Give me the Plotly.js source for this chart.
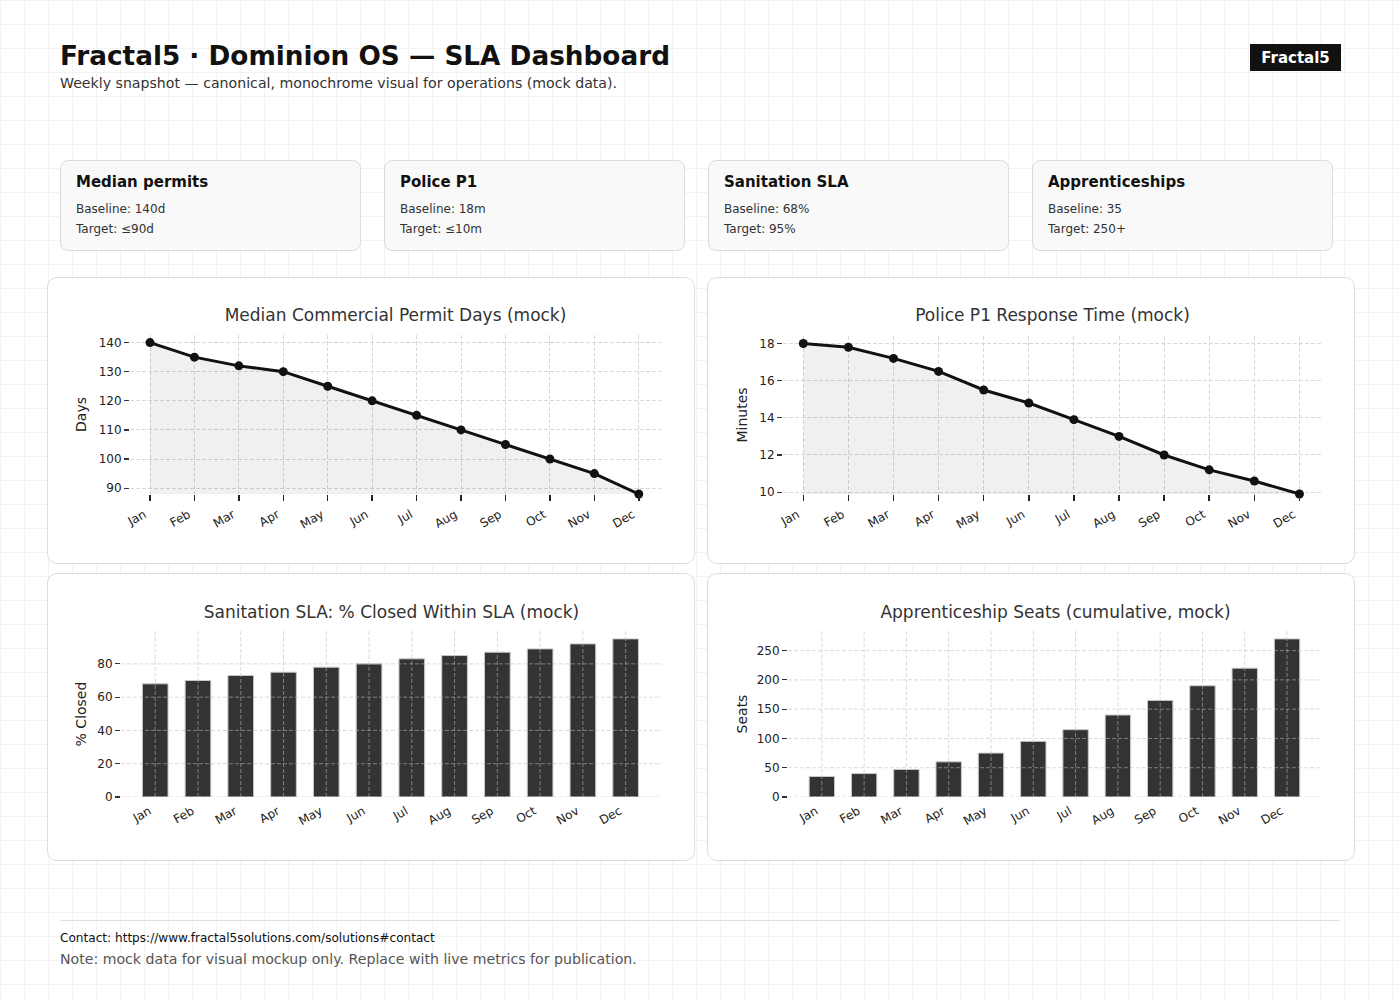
<!DOCTYPE html>
<html><head><meta charset="utf-8">
<script src="https://cdn.plot.ly/plotly-3.0.1.min.js"></script>
<style>
html,body{margin:0;padding:0;}
body{width:1400px;height:1000px;position:relative;overflow:hidden;font-family:"DejaVu Sans",sans-serif;
background-color:#fff;
background-image:linear-gradient(#f3f3f3 1px,transparent 1px),linear-gradient(90deg,#f3f3f3 1px,transparent 1px);
background-size:24px 24px;}
.abs{position:absolute;white-space:nowrap;line-height:1;}
#title{left:60px;top:43px;font-size:26.3px;font-weight:bold;color:#111;}
#subtitle{left:60px;top:76px;font-size:14.15px;color:#333;}
#badge{left:1250px;top:44px;width:91px;height:27px;background:#111;color:#fff;font-weight:bold;font-size:15px;text-align:center;line-height:29px;}
.kpi{position:absolute;top:160px;width:301px;height:91px;background:#f9f9f9;border:1px solid #dcdcdc;border-radius:8px;box-sizing:border-box;}
.kpi .h{position:absolute;left:15px;top:14px;font-size:15px;font-weight:bold;color:#111;line-height:1;}
.kpi .l1{position:absolute;left:15px;top:42px;font-size:12px;color:#333;line-height:1;}
.kpi .l2{position:absolute;left:15px;top:62px;font-size:12px;color:#333;line-height:1;}
.card{position:absolute;background:#fff;border:1px solid #dcdcdc;border-radius:10px;box-sizing:border-box;overflow:hidden;}
.plot{position:absolute;left:0;top:0;}
#rule{left:60px;top:920px;width:1280px;height:1px;background:#e0e0e0;}
#contact{left:60px;top:932px;font-size:12.1px;color:#111;}
#note{left:60px;top:952px;font-size:14.13px;color:#555;}
</style>
</head><body>
<div class="abs" id="title">Fractal5 · Dominion OS — SLA Dashboard</div>
<div class="abs" id="subtitle">Weekly snapshot — canonical, monochrome visual for operations (mock data).</div>
<div class="abs" id="badge">Fractal5</div>

<div class="kpi" style="left:60px"><div class="h">Median permits</div><div class="l1">Baseline: 140d</div><div class="l2">Target: ≤90d</div></div>
<div class="kpi" style="left:384px"><div class="h">Police P1</div><div class="l1">Baseline: 18m</div><div class="l2">Target: ≤10m</div></div>
<div class="kpi" style="left:708px"><div class="h">Sanitation SLA</div><div class="l1">Baseline: 68%</div><div class="l2">Target: 95%</div></div>
<div class="kpi" style="left:1032px"><div class="h">Apprenticeships</div><div class="l1">Baseline: 35</div><div class="l2">Target: 250+</div></div>

<div class="card" style="left:47px;top:277px;width:648px;height:287px"><div class="plot" id="c1"></div></div>
<div class="card" style="left:707px;top:277px;width:648px;height:287px"><div class="plot" id="c2"></div></div>
<div class="card" style="left:47px;top:573px;width:648px;height:288px"><div class="plot" id="c3"></div></div>
<div class="card" style="left:707px;top:573px;width:648px;height:288px"><div class="plot" id="c4"></div></div>

<div class="abs" id="rule"></div>
<div class="abs" id="contact">Contact: https://www.fractal5solutions.com/solutions#contact</div>
<div class="abs" id="note">Note: mock data for visual mockup only. Replace with live metrics for publication.</div>

<script>
// ---- data ----
const months = ["Jan","Feb","Mar","Apr","May","Jun","Jul","Aug","Sep","Oct","Nov","Dec"];
const permitDays = [140,135,132,130,125,120,115,110,105,100,95,88];
const policeMinutes = [18.0,17.8,17.2,16.5,15.5,14.8,13.9,13.0,12.0,11.2,10.6,9.9];
const sanitationPct = [68,70,73,75,78,80,83,85,87,89,92,95];
const apprenticeSeats = [35,40,47,60,75,95,115,140,165,190,220,270];

const FONT = "DejaVu Sans";
const GRID = "#d9d9d9";
const DASH = "4px,2px";

function baseAxes(ytitle, dtick, yrange, xrange, showGrid, standoff, xticks){
  return {
    xaxis:{type:'category', range:xrange, showline:false, zeroline:false, showgrid:showGrid,
      gridcolor:GRID, griddash:DASH, gridwidth:1,
      ticks:xticks.ticks, ticklen:xticks.len, tickcolor:'#222', tickwidth:1.5, tickangle:-30,
      ticklabelshift:-6, ticklabelstandoff:xticks.standoff,
      tickfont:{family:FONT,size:12,color:'#222'}},
    yaxis:{range:yrange, dtick:dtick, showline:false, zeroline:false, showgrid:showGrid,
      gridcolor:GRID, griddash:DASH, gridwidth:1,
      ticks:'outside', ticklen:5, tickcolor:'#333', tickwidth:1.2,
      tickfont:{family:FONT,size:12,color:'#222'},
      title:{text:ytitle, font:{family:FONT,size:14,color:'#222'}, standoff:standoff}}
  };
}

function lineChart(id, vals, title, ytitle, dtick, m, standoff){
  const n = vals.length;
  const lo = Math.min(...vals), hi = Math.max(...vals);
  const ax = baseAxes(ytitle, dtick, [lo, hi+0.05*(hi-lo)], [-0.45, n-1+0.5], true, standoff,
    {ticks:'outside', len:6, standoff:2});
  const W=646, H=285;
  const layout = Object.assign({
    width:W, height:H, margin:m, showlegend:false,
    paper_bgcolor:'rgba(0,0,0,0)', plot_bgcolor:'rgba(0,0,0,0)',
    font:{family:FONT,color:'#222'},
    title:{text:title, font:{family:FONT,size:17,color:'#333'}, x:(m.l+(W-m.l-m.r)/2)/W, xanchor:'center', xref:'container', y:1-37/H, yref:'container', yanchor:'middle'}
  }, ax);
  const trace = {type:'scatter', mode:'lines+markers', x:months, y:vals, cliponaxis:false,
    line:{color:'#111', width:3}, marker:{color:'#111', size:9},
    fill:'tozeroy', fillcolor:'rgba(0,0,0,0.06)'};
  Plotly.newPlot(id, [trace], layout, {staticPlot:true, displayModeBar:false});
}

function barChart(id, vals, title, ytitle, dtick, m, standoff){
  const n = vals.length;
  const hi = Math.max(...vals);
  const top = hi*1.05;
  const ax = baseAxes(ytitle, dtick, [0, top], [-0.8, n-1+0.85], false, standoff,
    {ticks:'', len:0, standoff:4});
  const W=646, H=286;
  const shapes = [];
  const gl = {color:'rgba(190,190,190,0.55)', width:1, dash:DASH};
  months.forEach((c)=>shapes.push({type:'line', xref:'x', yref:'paper', x0:c, x1:c, y0:0, y1:1, layer:'above', line:gl}));
  for(let t=0; t<=top; t+=dtick) shapes.push({type:'line', xref:'paper', yref:'y', x0:0, x1:1, y0:t, y1:t, layer:'above', line:gl});
  const layout = Object.assign({
    width:W, height:H, margin:m, showlegend:false, shapes:shapes,
    paper_bgcolor:'rgba(0,0,0,0)', plot_bgcolor:'rgba(0,0,0,0)',
    font:{family:FONT,color:'#222'},
    title:{text:title, font:{family:FONT,size:17,color:'#333'}, x:(m.l+(W-m.l-m.r)/2)/W, xanchor:'center', xref:'container', y:1-38/H, yref:'container', yanchor:'middle'}
  }, ax);
  const trace = {type:'bar', x:months, y:vals, width:0.6,
    marker:{color:'#333333', line:{color:'#c8c8c8', width:1}}};
  Plotly.newPlot(id, [trace], layout, {staticPlot:true, displayModeBar:false});
}

lineChart('c1', permitDays, 'Median Commercial Permit Days (mock)', 'Days', 10, {l:82, r:33, t:57, b:69}, 8);
lineChart('c2', policeMinutes, 'Police P1 Response Time (mock)', 'Minutes', 2, {l:75, r:32, t:58, b:69}, 8);
barChart('c3', sanitationPct, 'Sanitation SLA: % Closed Within SLA (mock)', '% Closed', 20, {l:73, r:32, t:57, b:63}, 7);
barChart('c4', apprenticeSeats, 'Apprenticeship Seats (cumulative, mock)', 'Seats', 50, {l:80, r:31, t:57, b:63}, 5);
</script>
</body></html>
